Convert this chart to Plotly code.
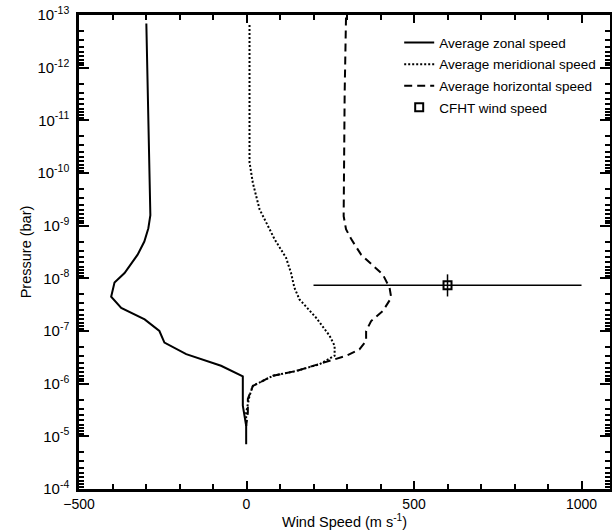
import plotly.graph_objects as go

# ---- data ----
zonal_speed = [-299, -292, -287, -293, -305, -325, -364, -394, -404, -374, -304, -260,
               -245, -180, -76, -11, -11, -1, -1]
zonal_pressure = [1.45e-13, 3.16e-11, 6.31e-10, 1.12e-9, 2.0e-9, 3.55e-9, 7.94e-9, 1.2e-8,
                  2.24e-8, 3.63e-8, 6.03e-8, 1.0e-7, 1.66e-7, 2.75e-7, 4.57e-7, 7.24e-7,
                  2.63e-6, 6.31e-6, 1.41e-5]

merid_speed = [9, 9, 19, 39, 69, 84, 118, 133, 143, 158, 208, 248, 263, 263, 218, 148,
               79, 19, 9, -1, -1]
merid_pressure = [1.55e-13, 6.3e-11, 1.55e-10, 4.9e-10, 1.17e-9, 1.82e-9, 4.07e-9, 7.94e-9,
                  1.51e-8, 2.51e-8, 5.62e-8, 1.23e-7, 1.91e-7, 2.95e-7, 4.27e-7, 5.75e-7,
                  7.08e-7, 1.1e-6, 1.7e-6, 3.55e-6, 6.31e-6]

horiz_speed = [297, 293, 290, 297, 313, 342, 407, 427, 432, 407, 372, 357, 357, 337, 298,
               263, 198, 148, 79, 19, 4, 4, -1]
horiz_pressure = [1.12e-13, 3.0e-12, 6.6e-10, 1.17e-9, 1.82e-9, 3.55e-9, 8.5e-9, 1.51e-8,
                  2.34e-8, 4.17e-8, 6.46e-8, 1.0e-7, 1.55e-7, 2.24e-7, 2.95e-7, 3.47e-7,
                  4.57e-7, 5.75e-7, 7.08e-7, 1.1e-6, 1.95e-6, 3.55e-6, 6.31e-6]

cfht_speed = [600]
cfht_pressure = [1.36e-8]
cfht_speed_err = [400]
cfht_p_err_plus = [8.5e-9]
cfht_p_err_minus = [5.2e-9]

x_range = [-500, 1085]
y_exponents = [-13, -12, -11, -10, -9, -8, -7, -6, -5, -4]
y_tickvals = [10.0 ** e for e in y_exponents]
y_ticktext = ["10<sup>%d</sup>" % e for e in y_exponents]

fig = go.Figure()
fig.add_trace(go.Scatter(
    x=zonal_speed, y=zonal_pressure, mode="lines", name="Average zonal speed",
    line=dict(color="black", width=2), legendgroup="g1"))
fig.add_trace(go.Scatter(
    x=merid_speed, y=merid_pressure, mode="lines", name="Average meridional speed",
    line=dict(color="black", width=2, dash="2px,2px"), legendgroup="g2"))
fig.add_trace(go.Scatter(
    x=horiz_speed, y=horiz_pressure, mode="lines", name="Average horizontal speed",
    line=dict(color="black", width=2, dash="8px,5px"), legendgroup="g3"))
fig.add_trace(go.Scatter(
    x=cfht_speed, y=cfht_pressure, mode="markers", name="CFHT wind speed",
    marker=dict(symbol="square-open", size=8, color="black", line=dict(width=2, color="black")),
    error_x=dict(type="data", array=cfht_speed_err, color="black", thickness=1.5, width=0),
    error_y=dict(type="data", array=cfht_p_err_plus, arrayminus=cfht_p_err_minus,
                 symmetric=False, color="black", thickness=1.5, width=0),
    legendgroup="g4"))

fig.update_layout(
    width=612, height=531,
    margin=dict(l=79, r=2, t=15, b=42, autoexpand=False),
    plot_bgcolor="white", paper_bgcolor="white",
    font=dict(family="Liberation Sans, Arial, sans-serif", color="black", size=14),
    showlegend=True,
    legend=dict(x=0.603, y=0.974, xanchor="left", yanchor="top",
                bgcolor="rgba(0,0,0,0)", font=dict(size=13.5), tracegroupgap=1),
)
fig.update_xaxes(
    range=x_range, tickmode="linear", tick0=-500, dtick=500,
    ticks="inside", ticklen=8, tickwidth=2, tickcolor="#000000",
    showline=True, linewidth=2.5, linecolor="#000000", mirror="allticks",
    showgrid=False, zeroline=False, automargin=False, layer="above traces",
    tickfont=dict(size=14),
    minor=dict(dtick=100, ticks="inside", ticklen=5, tickwidth=1.5, tickcolor="#000000",
               showgrid=False),
    title=dict(text="Wind Speed (m s<sup>-1</sup>)", font=dict(size=14.5), standoff=4),
)
fig.update_yaxes(
    type="log", range=[-4, -13], tickmode="array", tickvals=y_tickvals, ticktext=y_ticktext,
    ticks="inside", ticklen=10, tickwidth=2, tickcolor="#000000",
    showline=True, linewidth=2.5, linecolor="#000000", mirror="allticks",
    showgrid=False, zeroline=False, automargin=False, layer="above traces",
    tickfont=dict(size=15), ticklabelstandoff=4,
    minor=dict(dtick="D1", ticks="inside", ticklen=5, tickwidth=1.5, tickcolor="#000000",
               showgrid=False),
    title=dict(text="Pressure (bar)", font=dict(size=14.5), standoff=3),
)

fig.write_html("out.html", config={"displayModeBar": False},
               post_script="document.body.style.margin='0';")
